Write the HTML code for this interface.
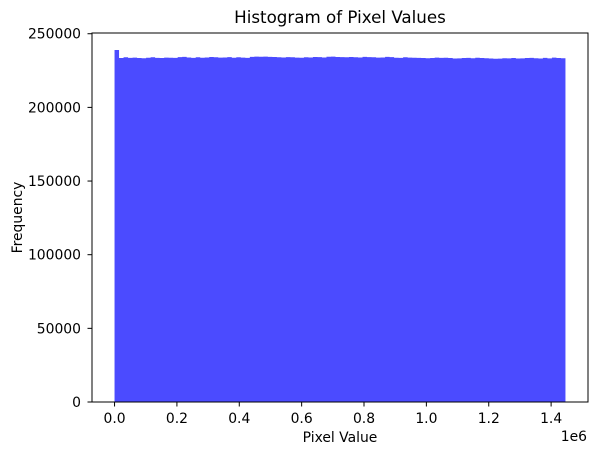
<!DOCTYPE html>
<html><head><meta charset="utf-8"><style>
body{margin:0;background:#fff}
svg{font-family:"DejaVu Sans","Liberation Sans",sans-serif}
</style></head><body>
<svg id="c" width="597" height="455" viewBox="0 0 597 455"></svg>
<script>
const binCount = [100];
const xRange = [0, 1446000];
const counts = [239000,233500,234000,233600,233800,233500,233400,233700,234000,233600,
233500,233800,233700,233600,234100,234300,233900,233600,234000,233700,
233900,234200,234000,233800,233900,234100,233700,234000,233800,233600,
234300,234500,234400,234500,234300,234200,234000,233900,234100,234000,
233800,233700,234000,233900,234200,234100,233900,234400,234500,234200,
234100,234000,234200,234000,233900,234300,234100,234000,233800,233900,
234300,234100,233700,233600,234000,233800,233700,233600,233500,233400,
233500,233800,233600,233700,233500,233200,233300,233500,233600,233400,
233700,233500,233400,233200,233000,233100,233400,233300,233500,233200,
233300,233500,233600,233400,233200,233600,233300,233800,233500,233400];
const xTicks = [0,0.2,0.4,0.6,0.8,1.0,1.2,1.4];
const xTickLabels = ["0.0","0.2","0.4","0.6","0.8","1.0","1.2","1.4"];
const yTicks = [0,50000,100000,150000,200000,250000];
const yTickLabels = ["0","50000","100000","150000","200000","250000"];

const L=92,R=588,T=33,B=402;
const span=xRange[1]-xRange[0];
const xMin=xRange[0]-0.05*span, xMax=xRange[1]+0.05*span;
const yMax=250500;
const xs=v=>L+(v-xMin)/(xMax-xMin)*(R-L);
const ys=v=>B-v/yMax*(B-T);
const svg=document.getElementById('c');
const NS='http://www.w3.org/2000/svg';
function mk(tag,attrs,text){const e=document.createElementNS(NS,tag);for(const k in attrs)e.setAttribute(k,attrs[k]);if(text!==undefined)e.textContent=text;svg.appendChild(e);return e;}

const n=binCount[0], w=span/n;
let d='M'+xs(xRange[0])+','+ys(0);
counts.forEach((c,i)=>{const x0=xs(xRange[0]+i*w),x1=xs(xRange[0]+(i+1)*w);d+=' L'+x0+','+ys(c)+' L'+x1+','+ys(c);});
d+=' L'+xs(xRange[1])+','+ys(0)+' Z';
const bars=mk('path',{d:d,fill:'#4b4bff'});



const frame=mk('rect',{x:L,y:T,width:R-L,height:B-T,fill:'none',stroke:'#000','stroke-width':1});



xTicks.forEach((t,i)=>{const x=xs(t*1e6);
mk('line',{x1:x,x2:x,y1:B,y2:B+4.5,stroke:'#000'});
const tl=mk('text',{x:x,y:B+21,'font-size':13.9,'text-anchor':'middle'},xTickLabels[i]);

});
yTicks.forEach((t,i)=>{const y=ys(t);
mk('line',{x1:L-4.5,x2:L,y1:y,y2:y,stroke:'#000'});
const tl=mk('text',{x:L-11,y:y+5,'font-size':13.9,'text-anchor':'end'},yTickLabels[i]);

});

const off=mk('text',{x:587,y:441,'font-size':13.9,'text-anchor':'end'},'1e6');


const xt=mk('text',{x:(L+R)/2,y:442,'font-size':13.9,'text-anchor':'middle'},'Pixel Value');


const yt=mk('text',{x:0,y:0,'font-size':13.9,'text-anchor':'middle',transform:'translate(22,'+((T+B)/2)+') rotate(-90)'},'Frequency');


const ti=mk('text',{x:(L+R)/2,y:23,'font-size':16.7,'text-anchor':'middle'},'Histogram of Pixel Values');


</script>
</body></html>
